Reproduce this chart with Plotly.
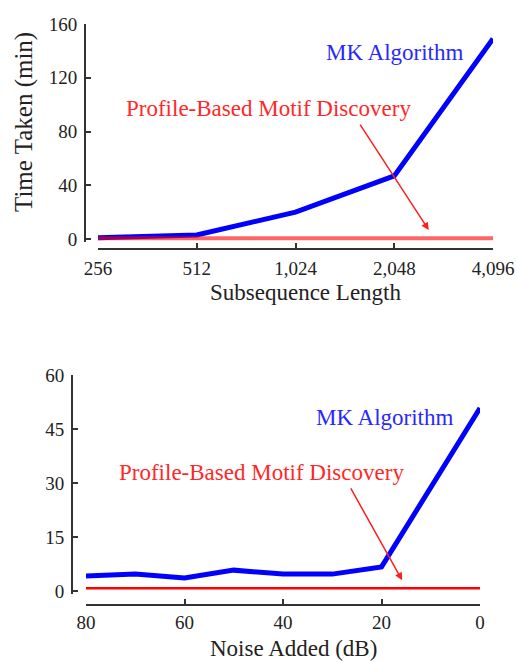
import math
import plotly.graph_objects as go

# ---- data ----
subseq_lengths = [256, 512, 1024, 2048, 4096]
subseq_tick_text = ["256", "512", "1,024", "2,048", "4,096"]
mk_time_length = [1, 3, 20, 47, 149]
profile_time_length = [0.5, 0.5, 0.5, 0.5, 0.5]

noise_db = [80, 70, 60, 50, 40, 30, 20, 10, 0]
mk_time_noise = [4.2, 4.7, 3.6, 5.8, 4.7, 4.7, 6.7, 29, 50.8]
profile_time_noise = [0.8, 0.8, 0.8, 0.8, 0.8, 0.8, 0.8, 0.8, 0.8]

W, H = 517, 662
FONT = "Liberation Serif"
TXT = "#222222"


def px(x):
    return x / W


def py(y):
    return 1 - y / H


fig = go.Figure()

# top chart
fig.add_trace(go.Scatter(x=subseq_lengths, y=mk_time_length, mode="lines",
                         line=dict(color="rgb(0,0,255)", width=5),
                         xaxis="x", yaxis="y", showlegend=False))
fig.add_trace(go.Scatter(x=subseq_lengths, y=profile_time_length, mode="lines",
                         line=dict(color="rgb(255,0,0)", width=4), opacity=0.6,
                         xaxis="x", yaxis="y", showlegend=False))
# bottom chart
fig.add_trace(go.Scatter(x=noise_db, y=mk_time_noise, mode="lines",
                         line=dict(color="rgb(0,0,255)", width=5),
                         xaxis="x2", yaxis="y2", showlegend=False))
fig.add_trace(go.Scatter(x=noise_db, y=profile_time_noise, mode="lines",
                         line=dict(color="rgb(255,0,0)", width=2.5),
                         xaxis="x2", yaxis="y2", showlegend=False))

axis_common = dict(showline=True, linecolor="#333333", linewidth=2,
                   ticks="inside", ticklen=5, tickwidth=2, tickcolor="#333333",
                   showgrid=False, zeroline=False, automargin=False,
                   tickfont=dict(family=FONT, size=19, color=TXT))

fig.update_layout(
    width=W, height=H,
    margin=dict(l=0, r=0, t=0, b=0),
    paper_bgcolor="white", plot_bgcolor="white",
    xaxis=dict(axis_common, type="log", range=[math.log10(256), math.log10(4096)],
               domain=[px(98), px(493)], anchor="free", position=py(249),
               tickvals=subseq_lengths, ticktext=subseq_tick_text, ticklabelstandoff=2),
    yaxis=dict(axis_common, range=[-2.5, 160], domain=[py(242.4), py(24)],
               anchor="free", position=px(85), tickvals=[0, 40, 80, 120, 160],
               ticklabelstandoff=3),
    xaxis2=dict(axis_common, range=[80, 0], domain=[px(86), px(480)],
                anchor="free", position=py(605), tickvals=[80, 60, 40, 20, 0]),
    yaxis2=dict(axis_common, range=[-0.8, 60], domain=[py(593.9), py(375)],
                anchor="free", position=px(72), tickvals=[0, 15, 30, 45, 60],
                ticklabelstandoff=3),
)

annotations = [
    # axis titles
    dict(text="Subsequence Length", x=px(305), y=py(293), xref="paper", yref="paper",
         showarrow=False, xanchor="center", yanchor="middle",
         font=dict(family=FONT, size=23, color=TXT)),
    dict(text="Time Taken (min)", x=px(24), y=py(122), xref="paper", yref="paper",
         showarrow=False, xanchor="center", yanchor="middle", textangle=-90,
         font=dict(family=FONT, size=25, color=TXT)),
    dict(text="Noise Added (dB)", x=px(293), y=py(648), xref="paper", yref="paper",
         showarrow=False, xanchor="center", yanchor="middle",
         font=dict(family=FONT, size=23, color=TXT)),
    # series labels and arrows
    dict(text="MK Algorithm", x=math.log10(2048), y=139, xref="x", yref="y",
         showarrow=False, font=dict(family=FONT, size=23, color="rgb(40,40,255)")),
    dict(text="Profile-Based Motif Discovery", x=math.log10(848), y=97.5, xref="x", yref="y",
         showarrow=False, font=dict(family=FONT, size=23, color="rgb(255,40,40)")),
    dict(text="", x=math.log10(2609), y=6.7, ax=math.log10(1601), ay=86.3,
         xref="x", yref="y", axref="x", ayref="y", showarrow=True,
         arrowhead=2, arrowsize=1, arrowwidth=1.5, arrowcolor="rgb(255,30,30)"),
    dict(text="MK Algorithm", x=19.3, y=48.3, xref="x2", yref="y2",
         showarrow=False, font=dict(family=FONT, size=23, color="rgb(40,40,255)")),
    dict(text="Profile-Based Motif Discovery", x=44.3, y=32.8, xref="x2", yref="y2",
         showarrow=False, font=dict(family=FONT, size=23, color="rgb(255,40,40)")),
    dict(text="", x=15.8, y=3.0, ax=26.4, ay=28.9,
         xref="x2", yref="y2", axref="x2", ayref="y2", showarrow=True,
         arrowhead=2, arrowsize=1, arrowwidth=1.5, arrowcolor="rgb(255,30,30)"),
]
fig.update_layout(annotations=annotations)

fig.write_html("out.html",
               config={"displayModeBar": False},
               post_script="document.body.style.margin='0';document.body.style.overflow='hidden';")
